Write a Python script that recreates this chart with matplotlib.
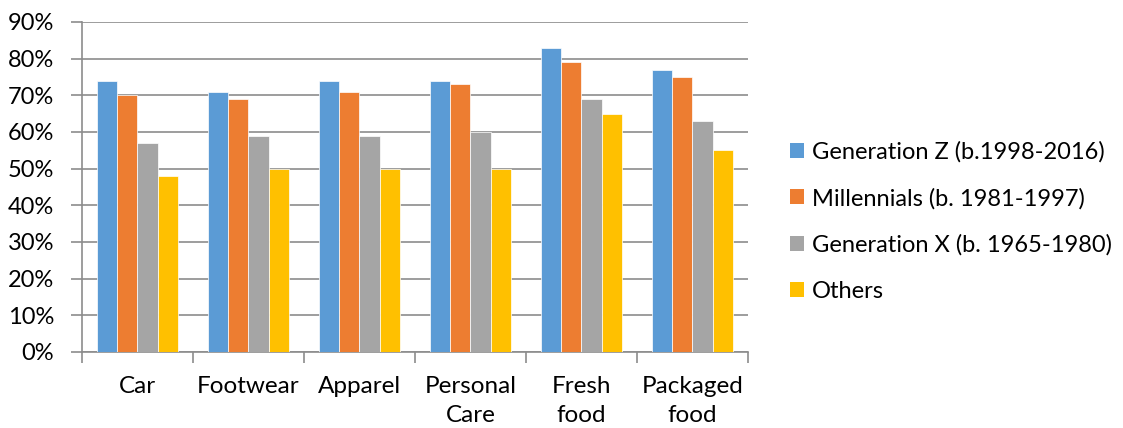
import matplotlib.pyplot as plt
import numpy as np
from matplotlib.patches import Patch

categories = ["Car", "Footwear", "Apparel", "Personal\nCare", "Fresh\nfood", "Packaged\nfood"]
series_names = [
    "Generation Z (b.1998-2016)",
    "Millennials (b. 1981-1997)",
    "Generation X (b. 1965-1980)",
    "Others",
]
gen_z = [74, 71, 74, 74, 83, 77]
millennials = [70, 69, 71, 73, 79, 75]
gen_x = [57, 59, 59, 60, 69, 63]
others = [48, 50, 50, 50, 65, 55]

colors = ["#5B9BD5", "#ED7D31", "#A5A5A5", "#FFC000"]

plt.rcParams["font.family"] = ["Lato", "DejaVu Sans"]

fig = plt.figure(figsize=(11.23, 4.28), dpi=100)
ax = fig.add_axes([0.073, 0.1776, 0.593, 0.771])

x = np.arange(len(categories))
width = 0.182
for i, vals in enumerate([gen_z, millennials, gen_x, others]):
    ax.bar(
        x + (i - 1.5) * width,
        vals,
        width,
        color=colors[i],
        edgecolor="white",
        linewidth=0.5,
        zorder=3,
    )

ax.set_xlim(-0.5, len(categories) - 0.5)
ax.set_ylim(0, 90)
ax.set_yticks(np.arange(0, 91, 10))
ax.set_yticklabels([f"{v}%" for v in range(0, 91, 10)], fontsize=17)
ax.yaxis.grid(True, color="#8C8C8C", linewidth=1.2, zorder=0)

ax.set_xticks(x)
ax.set_xticklabels(categories, fontsize=17.5, linespacing=1.5)
ax.set_xticks(np.arange(-0.5, len(categories)), minor=True)
ax.tick_params(axis="x", which="major", length=0, pad=17)
ax.tick_params(axis="x", which="minor", length=8, color="#8C8C8C", width=1.2)
ax.tick_params(axis="y", length=8, color="#8C8C8C", width=1.2, pad=12)

for side in ["top", "right"]:
    ax.spines[side].set_visible(False)
for side in ["left", "bottom"]:
    ax.spines[side].set_color("#8C8C8C")
    ax.spines[side].set_linewidth(1.2)

handles = [Patch(facecolor=c, edgecolor="none") for c in colors]
fig.legend(
    handles,
    series_names,
    loc="center left",
    bbox_to_anchor=(0.7035, 0.4825),
    frameon=False,
    fontsize=17,
    borderpad=0,
    borderaxespad=0,
    handlelength=0.6,
    handleheight=0.6,
    handletextpad=0.34,
    labelspacing=1.06,
)

fig.savefig("out.png", dpi=100)
